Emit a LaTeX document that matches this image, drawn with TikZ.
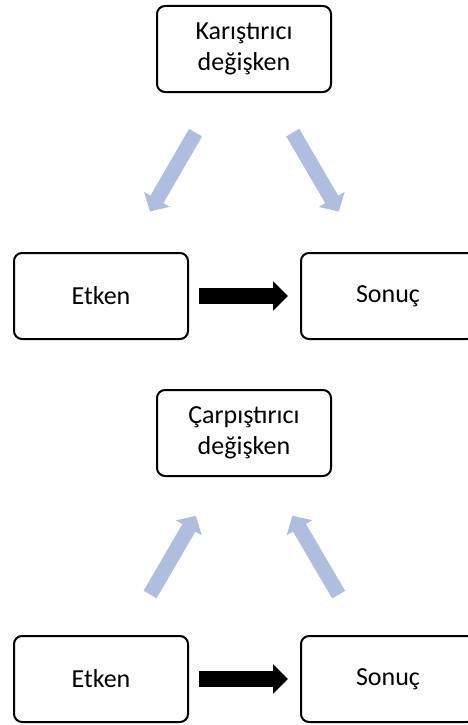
\documentclass[tikz,border=0pt]{standalone}
\usepackage{fontspec}
\setmainfont{Carlito}
\usepackage{xcolor}
\usetikzlibrary{arrows.meta}
\definecolor{linkblue}{RGB}{175,189,222}
\tikzset{my_diagram/.style={x=1pt,y=-1pt}}
\tikzset{my_box/.style={draw, rectangle, rounded corners=8pt, line width=2pt, minimum width=174pt, minimum height=86pt, inner sep=0pt, outer sep=0pt, align=center, font=\fontsize{26}{31}\selectfont}}
\tikzset{my_confound/.style={line width=15pt, draw=linkblue, -{Triangle[width=29pt,length=14pt]}}}
\tikzset{my_effect/.style={line width=16pt, -{Triangle[width=29pt,length=15pt]}, shorten <=11pt, shorten >=13pt}}

\begin{document}
\begin{tikzpicture}[my_diagram]
    \tikzstyle{every node}=[my_box]
    \useasboundingbox (0,0) rectangle (467,725);
    % confounder
    \node (karistirici) at (244,49) {Karıştırıcı\\değişken};
    \node (etken1) at (101,296) {Etken};
    \node (sonuc1) at (388,296) {Sonuç};
    % collider
    \node (carpistirici) at (244,433) {Çarpıştırıcı\\değişken};
    \node (etken2) at (101,679) {Etken};
    \node (sonuc2) at (388,679) {Sonuç};

    \path
        (karistirici) edge [my_confound, shorten <=47pt, shorten >=48pt] (etken1)
        (karistirici) edge [my_confound, shorten <=47pt, shorten >=48pt] (sonuc1)
        (etken1) edge [my_effect] (sonuc1)
        (etken2) edge [my_confound, shorten <=48pt, shorten >=46pt] (carpistirici)
        (sonuc2) edge [my_confound, shorten <=48pt, shorten >=46pt] (carpistirici)
        (etken2) edge [my_effect] (sonuc2)
    ;
\end{tikzpicture}
\end{document}
